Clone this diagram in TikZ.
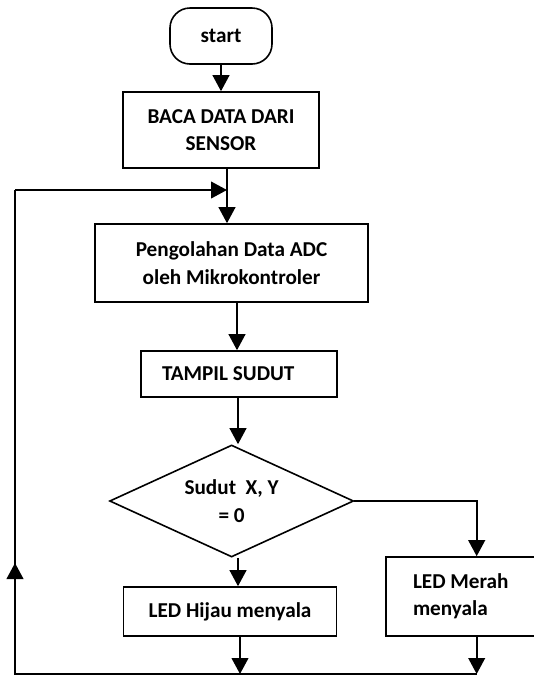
\documentclass[tikz,border=0pt]{standalone}
\usepackage{fontspec}
\setmainfont{Carlito}
\usetikzlibrary{shapes.geometric,arrows.meta}
\begin{document}
\begin{tikzpicture}[x=0.75pt,y=-0.75pt,
  font=\fontsize{15.9}{20.5}\selectfont\bfseries,
  box/.style={draw, line width=1.2pt, align=center, inner sep=0pt},
  conn/.style={line width=1.5pt},
  arr/.style={line width=1.5pt, -{Triangle[length=12pt,width=12.5pt]}}]
\useasboundingbox (0,0) rectangle (533,679);
\fill[white] (0,0) rectangle (533,679);
\node[box, rounded corners=15pt, minimum width=76.5pt, minimum height=42pt] (start) at (221,36) {start};
\node[box, minimum width=147pt, minimum height=57pt] (baca) at (221,130) {BACA DATA DARI\\SENSOR};
\node[box, minimum width=204.75pt, minimum height=58.5pt] (proc) at (231.5,263) {Pengolahan Data ADC\\oleh Mikrokontroler};
\node[box, minimum height=34.5pt, text width=115.5pt, inner xsep=15.75pt, align=flush left] (tampil) at (239,374) {TAMPIL SUDUT};
\node[box, diamond, aspect=2.18, minimum width=183pt, minimum height=84pt, inner sep=1pt] (dec) at (231.6,501) {Sudut\ \ X, Y\\= 0};
\node[box, minimum width=159.75pt, minimum height=36.75pt] (hijau) at (230,611.5) {LED Hijau menyala};
\node[box, minimum height=59.25pt, text width=78.75pt, inner xsep=20.25pt, align=flush left] (merah) at (465.5,596.5) {LED Merah\\menyala};
\coordinate (j) at (227,190);
\coordinate (fl) at (15,190);
\coordinate (bl) at (15,674);
\coordinate (bh) at (240,674);
\coordinate (br) at (476.7,674);
\coordinate (up) at (15,563);
\coordinate (c1) at (237,0);
\coordinate (c2) at (238,0);
\draw[arr] (start) -- (baca);
\draw[conn] (baca.south -| j) -- (j);
\draw[arr] (j) -- (j |- proc.north);
\draw[arr] (proc.south -| c1) -- (tampil.north -| c1);
\draw[arr] (tampil.south -| c2) -- (dec.north -| c2);
\draw[arr] (dec.south -| c2) -- (hijau.north -| c2);
\draw[arr] (dec.east) -| (br |- merah.north);
\draw[arr] (hijau.south -| bh) -- (bh);
\draw[arr] (merah.south -| br) -- (br);
\draw[conn] (br) -- (bl) -- (fl);
\draw[arr] (fl) -- (j);
\draw[arr] (bl) -- (up);
\end{tikzpicture}
\end{document}
